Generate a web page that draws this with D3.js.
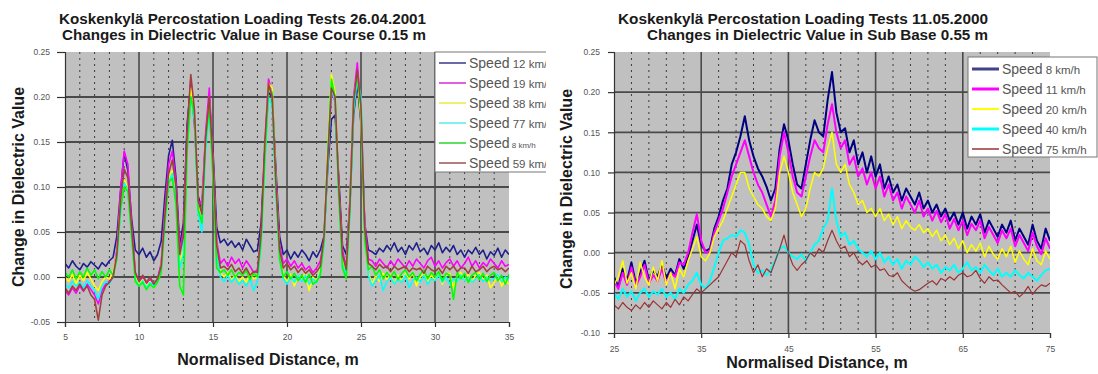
<!DOCTYPE html>
<html><head><meta charset="utf-8">
<script src="https://cdn.jsdelivr.net/npm/d3@7"></script>
<style>body{margin:0;background:#fff}svg{display:block}</style>
</head><body>
<svg id="c" width="1098" height="374"></svg>
<script>
// ---------------- LEFT CHART DATA (26.04.2001, Base Course 0.15 m) ----------------
const leftStart = 5, leftStep = 0.25;           // normalised distance sampling, m
const leftXTicks = [5, 10, 15, 20, 25, 30, 35];
const leftYTicks = [-0.05, 0, 0.05, 0.10, 0.15, 0.20, 0.25];
const leftNames = ["Speed 12 km/h", "Speed 19 km/h", "Speed 38 km/h", "Speed 77 km/h", "Speed 8 km/h", "Speed 59 km/h"];
const leftTitle = ["Koskenkylä Percostation Loading Tests 26.04.2001", "Changes in Dielectric Value in Base Course 0.15 m"];
const left12 = [
0.015,0.010,0.018,0.012, 0.008,0.015,0.011,0.017, 0.013,0.009,0.016,0.012, 0.018,0.022,0.045,0.095,
0.138,0.118,0.065,0.030, 0.025,0.032,0.022,0.028, 0.018,0.025,0.040,0.090, 0.135,0.152,0.110,0.035,
0.060,0.170,0.215,0.170, 0.090,0.075,0.150,0.195, 0.140,0.055,0.038,0.042, 0.035,0.040,0.033,0.038,
0.030,0.042,0.035,0.028, 0.030,0.060,0.140,0.205, 0.200,0.120,0.045,0.025, 0.030,0.020,0.028,0.022,
0.030,0.025,0.018,0.028, 0.022,0.030,0.045,0.120, 0.175,0.180,0.110,0.035, 0.025,0.080,0.180,0.215,
0.170,0.060,0.030,0.028, 0.025,0.032,0.028,0.035, 0.030,0.038,0.028,0.033, 0.025,0.035,0.030,0.038,
0.028,0.032,0.025,0.035, 0.030,0.038,0.027,0.033, 0.028,0.035,0.025,0.030, 0.022,0.030,0.026,0.033,
0.025,0.030,0.020,0.028, 0.024,0.032,0.022,0.030, 0.025];
const left19 = [
-0.015,-0.020,-0.012,-0.018, -0.010,-0.016,-0.008,-0.014, -0.020,-0.030,-0.015,-0.008, -0.005,0.000,0.030,0.095,
0.140,0.125,0.060,0.005, -0.005,0.000,-0.008,-0.003, -0.010,-0.002,0.015,0.075, 0.125,0.140,0.105,0.030,
0.050,0.160,0.220,0.175, 0.085,0.080,0.160,0.210, 0.130,0.040,0.015,0.020, 0.012,0.022,0.015,0.020,
0.010,0.018,0.012,0.005, 0.008,0.045,0.140,0.220, 0.205,0.110,0.035,0.015, 0.020,0.012,0.018,0.010,
0.015,0.008,0.012,0.005, 0.010,0.018,0.040,0.130, 0.205,0.195,0.100,0.030, 0.010,0.085,0.200,0.238,
0.185,0.060,0.020,0.018, 0.012,0.020,0.015,0.010, 0.018,0.012,0.020,0.015, 0.010,0.018,0.012,0.020,
0.015,0.010,0.018,0.022, 0.012,0.018,0.010,0.016, 0.020,0.012,0.018,0.010, 0.015,0.022,0.012,0.018,
0.010,0.016,0.012,0.020, 0.015,0.010,0.018,0.012, 0.014];
const left38 = [
0.000,-0.005,0.003,-0.008, 0.002,-0.004,0.005,-0.002, -0.010,-0.015,-0.005,0.000, -0.002,0.005,0.025,0.080,
0.108,0.100,0.050,0.000, -0.008,-0.003,-0.010,-0.005, -0.012,-0.004,0.010,0.065, 0.110,0.118,0.090,0.015,
0.030,0.150,0.210,0.180, 0.080,0.070,0.150,0.195, 0.125,0.030,0.005,0.000, 0.005,-0.003,0.002,-0.005,
0.000,-0.006,0.004,-0.002, 0.000,0.040,0.130,0.215, 0.210,0.105,0.025,0.002, -0.005,0.003,-0.010,0.002,
-0.003,0.005,-0.015,0.000, -0.005,0.008,0.040,0.140, 0.225,0.205,0.095,0.020, 0.005,0.080,0.195,0.225,
0.175,0.045,0.005,-0.008, 0.002,-0.005,0.004,-0.003, 0.003,-0.008,0.002,-0.004, 0.004,-0.002,0.005,-0.010,
0.000,0.004,-0.005,0.002, -0.003,0.005,-0.008,0.002, 0.004,-0.012,0.002,0.005, -0.004,0.003,-0.006,0.002,
0.005,-0.003,0.002,-0.012, -0.006,0.003,-0.010,-0.004, -0.008];
const left77 = [
-0.008,-0.012,-0.005,-0.010, -0.006,-0.012,-0.004,-0.010, -0.015,-0.025,-0.010,-0.005, -0.008,0.000,0.020,0.070,
0.105,0.095,0.045,-0.002, -0.010,-0.004,-0.012,-0.006, -0.010,-0.005,0.008,0.060, 0.105,0.115,0.085,0.010,
0.025,0.140,0.200,0.175, 0.070,0.050,0.140,0.185, 0.120,0.025,0.000,-0.005, 0.002,-0.006,0.000,-0.008,
-0.004,-0.010,-0.002,-0.015, -0.005,0.035,0.125,0.200, 0.190,0.095,0.020,-0.002, -0.008,0.000,-0.006,0.002,
-0.005,0.002,-0.008,-0.002, -0.006,0.005,0.035,0.125, 0.210,0.195,0.090,0.015, 0.002,0.070,0.185,0.220,
0.200,0.050,0.002,-0.010, -0.004,0.002,-0.015,-0.005, 0.000,-0.008,-0.002,-0.006, 0.002,-0.012,-0.004,0.000,
-0.006,0.002,-0.008,-0.002, -0.004,0.002,-0.006,0.000, -0.008,-0.002,-0.005,0.002, -0.004,0.000,-0.006,-0.002,
0.002,-0.005,0.000,-0.004, -0.002,0.003,-0.005,0.000, -0.003];
const left8 = [
0.005,0.000,0.008,-0.002, 0.006,0.000,0.010,0.002, 0.008,-0.002,0.006,0.000, 0.008,0.002,0.020,0.075,
0.100,0.095,0.045,-0.005, -0.010,-0.006,-0.014,-0.008, -0.012,-0.006,0.005,0.060, 0.105,0.110,0.080,-0.010,
-0.020,0.140,0.200,0.180, 0.075,0.060,0.150,0.190, 0.110,0.010,0.005,0.008, 0.002,0.008,0.000,0.005,
0.002,0.007,-0.003,0.004, 0.000,0.040,0.130,0.210, 0.205,0.100,0.020,0.000, 0.006,-0.002,0.004,-0.004,
0.002,-0.006,0.003,-0.008, -0.005,0.002,0.040,0.135, 0.220,0.200,0.090,0.010, -0.002,0.075,0.195,0.225,
0.185,0.040,0.008,0.012, 0.002,0.008,-0.002,0.005, 0.000,0.006,-0.003,0.004, 0.008,0.000,0.005,-0.004,
0.003,0.008,-0.002,0.005, 0.000,0.006,-0.004,0.004, 0.002,-0.025,0.005,-0.002, 0.004,-0.006,0.002,0.005,
-0.003,0.004,-0.005,0.002, 0.005,-0.004,0.002,-0.008, 0.003];
const left59 = [
-0.012,-0.018,-0.010,-0.015, -0.008,-0.015,-0.010,-0.020, -0.025,-0.048,-0.020,-0.010, -0.006,0.000,0.025,0.085,
0.120,0.110,0.055,0.005, -0.005,0.002,-0.006,0.000, -0.008,-0.002,0.012,0.070, 0.115,0.130,0.100,0.025,
0.045,0.160,0.225,0.185, 0.085,0.070,0.155,0.200, 0.130,0.035,0.010,0.012, 0.008,0.014,0.006,0.010,
0.004,0.010,0.002,0.006, 0.005,0.050,0.150,0.215, 0.200,0.105,0.030,0.010, 0.015,0.008,0.012,0.005,
0.010,0.004,0.008,0.002, 0.006,0.012,0.045,0.130, 0.210,0.200,0.100,0.025, 0.008,0.080,0.195,0.230,
0.190,0.055,0.015,0.012, 0.008,0.014,0.010,0.012, 0.006,0.012,0.008,0.010, 0.012,0.006,0.010,0.008,
0.010,0.004,0.012,0.008, 0.006,0.010,0.004,0.012, 0.008,0.012,0.006,0.010, 0.010,0.004,0.012,0.006,
0.008,0.012,0.006,0.010, 0.012,0.008,0.010,0.006, 0.010];

// ---------------- RIGHT CHART DATA (11.05.2000, Sub Base 0.55 m) ----------------
const rightStart = 25, rightStep = 0.5;
const rightXTicks = [25, 35, 45, 55, 65, 75];
const rightYTicks = [-0.10, -0.05, 0, 0.05, 0.10, 0.15, 0.20, 0.25];
const rightNames = ["Speed 8 km/h", "Speed 11 km/h", "Speed 20 km/h", "Speed 40 km/h", "Speed 75 km/h"];
const rightTitle = ["Koskenkylä Percostation Loading Tests 11.05.2000", "Changes in Dielectric Value in Sub Base 0.55 m"];
const right8 = [
-0.030,-0.042,-0.020,-0.035,-0.012,-0.038,-0.025,-0.010,-0.035,-0.022,
-0.030,-0.015,-0.032,-0.020,-0.028,-0.008,-0.020,-0.005,0.015,0.035,
0.010,0.002,0.005,0.030,0.045,0.065,0.080,0.110,0.125,0.145,
0.170,0.140,0.120,0.105,0.095,0.082,0.065,0.080,0.130,0.160,
0.140,0.110,0.085,0.080,0.110,0.140,0.165,0.150,0.145,0.190,
0.225,0.175,0.150,0.155,0.125,0.140,0.110,0.125,0.100,0.120,
0.095,0.110,0.080,0.095,0.075,0.085,0.065,0.080,0.070,0.060,
0.075,0.055,0.065,0.050,0.060,0.045,0.055,0.040,0.050,0.035,
0.050,0.030,0.045,0.035,0.048,0.025,0.040,0.030,0.020,0.035,
0.025,0.040,0.015,0.030,0.020,0.010,0.035,0.015,0.005,0.030,
0.015];
const right11 = [
-0.035,-0.045,-0.025,-0.040,-0.018,-0.042,-0.030,-0.015,-0.038,-0.028,
-0.035,-0.020,-0.038,-0.025,-0.030,-0.012,-0.015,0.000,0.025,0.048,
0.015,0.000,0.002,0.025,0.040,0.055,0.075,0.095,0.110,0.125,
0.140,0.120,0.100,0.085,0.075,0.060,0.045,0.065,0.120,0.150,
0.125,0.095,0.075,0.070,0.095,0.120,0.140,0.130,0.125,0.160,
0.185,0.150,0.130,0.140,0.110,0.120,0.095,0.105,0.085,0.100,
0.080,0.095,0.070,0.085,0.065,0.075,0.055,0.070,0.060,0.050,
0.065,0.045,0.055,0.040,0.052,0.038,0.048,0.030,0.042,0.028,
0.040,0.022,0.036,0.028,0.040,0.018,0.032,0.022,0.012,0.028,
0.018,0.030,0.008,0.022,0.012,0.002,0.025,0.008,-0.002,0.018,
0.005];
const right20 = [
-0.040,-0.030,-0.010,-0.038,-0.025,-0.045,-0.012,-0.030,-0.040,-0.018,
-0.035,-0.010,-0.040,-0.025,-0.045,-0.020,-0.030,-0.010,0.005,0.020,
-0.005,-0.010,0.000,0.020,0.030,0.040,0.055,0.070,0.085,0.100,
0.100,0.080,0.070,0.060,0.055,0.045,0.040,0.055,0.100,0.120,
0.100,0.075,0.060,0.045,0.055,0.080,0.100,0.095,0.105,0.130,
0.150,0.110,0.100,0.110,0.085,0.075,0.060,0.065,0.050,0.055,
0.045,0.055,0.040,0.048,0.035,0.045,0.030,0.040,0.032,0.028,
0.035,0.025,0.030,0.020,0.028,0.015,0.022,0.010,0.018,0.005,
0.015,0.000,0.010,0.002,0.012,-0.005,0.008,-0.002,-0.008,0.005,
-0.005,0.008,-0.012,0.002,-0.008,-0.015,0.005,-0.010,-0.015,0.002,
-0.008];
const right40 = [
-0.050,-0.058,-0.045,-0.055,-0.048,-0.060,-0.050,-0.045,-0.055,-0.048,
-0.052,-0.045,-0.055,-0.050,-0.058,-0.045,-0.050,-0.040,-0.035,-0.025,
-0.040,-0.045,-0.035,-0.018,0.000,0.015,0.018,0.022,0.020,0.028,
0.025,0.010,-0.015,-0.025,-0.022,-0.028,-0.020,-0.010,0.005,0.008,
0.000,-0.005,-0.008,-0.002,-0.010,0.000,0.010,0.015,0.030,0.040,
0.080,0.040,0.020,0.025,0.010,0.015,0.005,0.000,-0.005,0.002,
-0.008,0.000,-0.012,-0.005,-0.015,-0.008,-0.020,-0.010,-0.015,-0.005,
-0.010,-0.018,-0.012,-0.020,-0.015,-0.025,-0.018,-0.022,-0.015,-0.025,
-0.020,-0.012,-0.022,-0.018,-0.025,-0.015,-0.022,-0.028,-0.020,-0.030,
-0.025,-0.030,-0.022,-0.028,-0.032,-0.025,-0.030,-0.035,-0.028,-0.022,
-0.020];
const right75 = [
-0.065,-0.070,-0.062,-0.068,-0.072,-0.065,-0.070,-0.062,-0.068,-0.060,
-0.065,-0.070,-0.062,-0.068,-0.058,-0.065,-0.055,-0.060,-0.052,-0.045,
-0.050,-0.045,-0.040,-0.035,-0.030,-0.020,-0.010,0.000,-0.005,0.015,
0.010,-0.010,-0.025,-0.015,-0.030,-0.020,-0.025,-0.010,0.005,0.022,
0.000,-0.015,-0.022,-0.015,-0.010,0.000,-0.005,0.005,0.000,0.015,
0.028,0.015,0.005,0.008,-0.005,0.000,-0.010,-0.015,-0.010,-0.018,
-0.015,-0.022,-0.020,-0.028,-0.030,-0.025,-0.035,-0.040,-0.045,-0.048,
-0.046,-0.042,-0.038,-0.035,-0.040,-0.032,-0.035,-0.030,-0.034,-0.028,
-0.025,-0.030,-0.028,-0.022,-0.032,-0.038,-0.030,-0.035,-0.034,-0.040,
-0.045,-0.050,-0.048,-0.055,-0.050,-0.042,-0.052,-0.045,-0.040,-0.042,
-0.038];

// ---------------- DRAWING ----------------
const svg = d3.select("#c");
const FONT = "'Liberation Sans', Arial, sans-serif";

function drawChart(cfg) {
  const root = svg.append("g");
  if (cfg.clipW) {
    const id = "clip" + cfg.key;
    svg.append("defs").append("clipPath").attr("id", id)
      .append("rect").attr("x", cfg.clipX).attr("y", 0).attr("width", cfg.clipW).attr("height", 374);
    root.attr("clip-path", `url(#${id})`);
  }
  const x = d3.scaleLinear().domain(cfg.xDomain).range([cfg.left, cfg.right]);
  const y = d3.scaleLinear().domain(cfg.yDomain).range([cfg.bottom, cfg.top]);

  root.append("rect").attr("x", cfg.left).attr("y", cfg.top)
    .attr("width", cfg.right - cfg.left).attr("height", cfg.bottom - cfg.top).attr("fill", "#c0c0c0");

  // minor dotted verticals
  root.append("g").selectAll("line").data(cfg.xMinor).join("line")
    .attr("x1", d => x(d)).attr("x2", d => x(d)).attr("y1", cfg.top).attr("y2", cfg.bottom)
    .attr("stroke", "#3a3a3a").attr("stroke-width", 1).attr("stroke-dasharray", "2,4");
  // major verticals
  root.append("g").selectAll("line").data(cfg.xTicks.slice(1, -1)).join("line")
    .attr("x1", d => x(d)).attr("x2", d => x(d)).attr("y1", cfg.top).attr("y2", cfg.bottom)
    .attr("stroke", "#4a4a4a").attr("stroke-width", 1.6);
  // major horizontals
  root.append("g").selectAll("line").data(cfg.yTicks.slice(1, -1)).join("line")
    .attr("x1", cfg.left).attr("x2", cfg.right).attr("y1", d => y(d)).attr("y2", d => y(d))
    .attr("stroke", "#4a4a4a").attr("stroke-width", 1.8);

  // series lines
  const clipPlotId = "plot" + cfg.key;
  svg.append("defs").append("clipPath").attr("id", clipPlotId)
    .append("rect").attr("x", cfg.left).attr("y", cfg.top - 1)
    .attr("width", cfg.right - cfg.left).attr("height", cfg.bottom - cfg.top + 1);
  const lines = root.append("g").attr("clip-path", `url(#${clipPlotId})`);
  cfg.series.forEach(s => {
    const line = d3.line().x((d, i) => x(cfg.start + i * cfg.step)).y(d => y(d));
    lines.append("path").attr("d", line(s.values)).attr("fill", "none")
      .attr("stroke", s.color).attr("stroke-width", s.width).attr("stroke-linejoin", "round");
  });

  // axes
  const yAxis = d3.axisLeft(y).tickValues(cfg.yTicks).tickFormat(d => d.toFixed(2))
    .tickSize(cfg.yTickSize).tickPadding(cfg.yTickPad);
  const ga = root.append("g").attr("transform", `translate(${cfg.left},0)`).call(yAxis);
  const xAxis = d3.axisBottom(x).tickValues(cfg.xTicks).tickFormat(d3.format("d"))
    .tickSize(5).tickPadding(cfg.xTickPad);
  const gb = root.append("g").attr("transform", `translate(0,${cfg.bottom})`).call(xAxis);
  [ga, gb].forEach(g => {
    g.select(".domain").attr("stroke", "#333").attr("stroke-width", 1.2);
    g.selectAll(".tick line").attr("stroke", "#333").attr("stroke-width", 1.2);
    g.selectAll("text").attr("fill", "#555").attr("font-family", FONT).attr("font-size", 8.5);
  });

  // legend
  const L = cfg.legend;
  const lg = root.append("g");
  lg.append("rect").attr("x", L.x).attr("y", L.y).attr("width", L.w).attr("height", L.h)
    .attr("fill", "#fff").attr("stroke", "#777").attr("stroke-width", 1);
  cfg.series.forEach((s, i) => {
    const yy = L.y + L.first + i * 20;
    lg.append("line").attr("x1", L.x + 4).attr("x2", L.x + 31).attr("y1", yy).attr("y2", yy)
      .attr("stroke", s.legendColor || s.color).attr("stroke-width", s.legendWidth || 2);
    const t = lg.append("text").attr("x", L.x + 34).attr("y", yy + 5)
      .attr("font-family", FONT).attr("fill", "#555");
    const parts = s.name.split(" ");
    t.append("tspan").attr("font-size", 14).text(parts[0]);
    t.append("tspan").attr("font-size", s.unitSize || 11.5).text(" " + parts.slice(1).join(" "));
  });

  // titles (right-aligned, as in the reference)
  cfg.title.forEach((tx, i) => {
    root.append("text").attr("x", cfg.titleX).attr("y", 24 + i * 16).attr("text-anchor", "end")
      .attr("font-family", FONT).attr("font-weight", "bold").attr("font-size", 14)
      .attr("textLength", cfg.titleW[i]).attr("lengthAdjust", "spacingAndGlyphs")
      .attr("fill", "#1a1a1a").text(tx);
  });
  root.append("text").attr("x", cfg.xTitleX).attr("y", cfg.xTitleY).attr("text-anchor", "middle")
    .attr("font-family", FONT).attr("font-weight", "bold").attr("font-size", 16)
    .attr("fill", "#1a1a1a").text("Normalised Distance, m");
  root.append("text").attr("transform", `translate(${cfg.yTitleX},${cfg.yTitleY}) rotate(-90)`)
    .attr("text-anchor", "middle")
    .attr("font-family", FONT).attr("font-weight", "bold").attr("font-size", 16)
    .attr("fill", "#1a1a1a").text("Change in Dielectric Value");
}

drawChart({
  key: "L", clipX: 0, clipW: 546,
  xDomain: [5, 35], yDomain: [-0.05, 0.25],
  left: 65, right: 509, top: 52, bottom: 322,
  start: leftStart, step: leftStep,
  xTicks: leftXTicks, yTicks: leftYTicks,
  xMinor: d3.range(6, 35).filter(v => v % 5 !== 0),
  yTickSize: 8, yTickPad: 7, xTickPad: 7,
  series: [
    {name: leftNames[0], values: left12, color: "#1e1e8c", width: 1.6, legendColor: "#6a6aa8"},
    {name: leftNames[1], values: left19, color: "#ff00ff", width: 1.6, legendColor: "#e060e0"},
    {name: leftNames[2], values: left38, color: "#ffff00", width: 1.6, legendColor: "#f0f070"},
    {name: leftNames[3], values: left77, color: "#00ffff", width: 1.6, legendColor: "#80f0f0"},
    {name: leftNames[4], values: left8,  color: "#00ff00", width: 1.6, legendColor: "#60e060", unitSize: 8},
    {name: leftNames[5], values: left59, color: "#a0403c", width: 1.6, legendColor: "#b08080"}
  ],
  legend: {x: 435, y: 52, w: 130, h: 120, first: 11},
  title: leftTitle, titleW: [367, 364],
  titleX: 426, xTitleX: 268, xTitleY: 365, yTitleX: 24, yTitleY: 187
});

drawChart({
  key: "R",
  xDomain: [25, 75], yDomain: [-0.10, 0.25],
  left: 614, right: 1050, top: 52, bottom: 333,
  start: rightStart, step: rightStep,
  xTicks: rightXTicks, yTicks: rightYTicks,
  xMinor: d3.range(27, 75, 2).filter(v => (v - 25) % 10 !== 0),
  yTickSize: 6, yTickPad: 8, xTickPad: 8,
  series: [
    {name: rightNames[0], values: right8,  color: "#000080", width: 2, legendColor: "#40408c", legendWidth: 3},
    {name: rightNames[1], values: right11, color: "#ff00ff", width: 2, legendWidth: 3},
    {name: rightNames[2], values: right20, color: "#ffff00", width: 1.5, legendWidth: 2},
    {name: rightNames[3], values: right40, color: "#00ffff", width: 2, legendWidth: 3},
    {name: rightNames[4], values: right75, color: "#993333", width: 1.2, legendWidth: 1.5}
  ],
  legend: {x: 968, y: 57, w: 129, h: 100, first: 12},
  title: rightTitle, titleW: [370, 341],
  titleX: 988, xTitleX: 817, xTitleY: 368, yTitleX: 572, yTitleY: 189
});
</script>
</body></html>
